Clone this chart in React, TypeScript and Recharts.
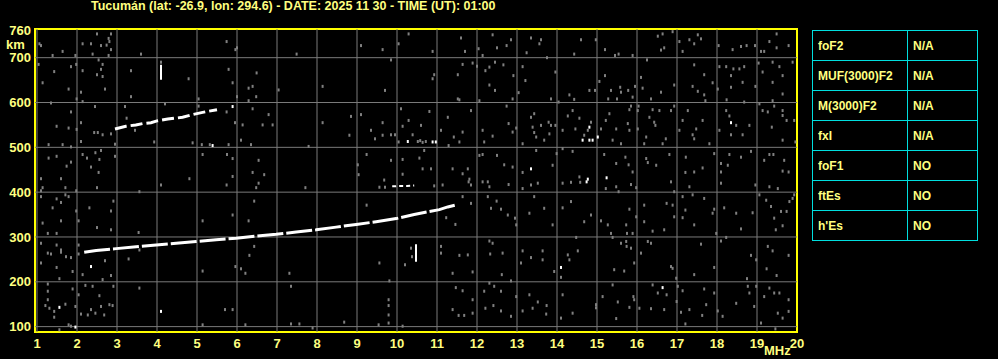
import React from 'react';
import {
  ScatterChart,
  Scatter,
  XAxis,
  YAxis,
  ReferenceLine,
  ReferenceArea,
} from 'recharts';

// ionogram: frequency (MHz) vs virtual height (km)
const titleText = 'Tucumán (lat: -26.9, lon: 294.6) - DATE: 2025 11 30 - TIME (UT): 01:00';
const freqTicks = [1, 2, 3, 4, 5, 6, 7, 8, 9, 10, 11, 12, 13, 14, 15, 16, 17, 18, 19, 20];
const heightTicks = [100, 200, 300, 400, 500, 600, 700, 760];
const freqGrid = [1, 2, 3, 4, 5, 6, 7, 8, 9, 10, 11, 12, 13, 14, 15, 16, 17, 18, 19];
const heightGrid = [100, 200, 300, 400, 500, 600, 700];

const paramNames = ['foF2', 'MUF(3000)F2', 'M(3000)F2', 'fxI', 'foF1', 'ftEs', "h'Es"];
const paramValues = ['N/A', 'N/A', 'N/A', 'N/A', 'NO', 'NO', 'NO'];

// main F trace
const fTrace: [number, number][] = [
  [2.18, 266], [2.48, 270], [2.98, 274], [3.48, 278], [3.98, 282], [4.48, 286], [4.98, 290],
  [5.48, 294], [5.98, 297], [6.48, 302], [6.98, 306], [7.48, 311], [7.98, 316], [8.48, 322],
  [8.98, 328], [9.48, 334], [9.98, 341], [10.43, 350], [10.81, 357], [11.06, 361], [11.27, 367],
  [11.49, 372],
];
// second hop
const f2hop: [number, number][] = [
  [2.95, 541], [3.22, 547], [3.47, 550], [3.64, 553], [3.85, 555], [4.0, 559], [4.27, 563],
  [4.64, 567], [4.89, 573], [5.14, 578], [5.5, 584],
];
const esTrace: [number, number][] = [
  [9.88, 413], [9.97, 413], [10.05, 414], [10.15, 414], [10.25, 414], [10.43, 415],
];
const barA: [number, number][] = [[4.1, 651], [4.1, 684]];
const barB: [number, number][] = [[10.475, 245], [10.475, 284]];

const whiteDots: [number, number][] = [
  [10.89, 512], [10.97, 512], [14.64, 516], [14.81, 545], [14.81, 516], [14.89, 516], [15.02, 523],
  [18.35, 555], [13.35, 452], [14.77, 429], [15.24, 432], [14.74, 423], [14.1, 232], [16.64, 187],
  [5.39, 504], [10.27, 513], [2.35, 234], [1.56, 143], [1.96, 99], [4.1, 134], [5.89, 591],
];

const grayDots: [number, number][] = [
  [10.89, 714], [11.6, 744], [11.7, 714], [12.39, 751], [12.04, 720], [12.14, 705], [12.5, 722], [12.74, 727], [12.85, 740],
  [13.35, 744], [13.6, 740], [13.24, 711], [13.56, 731], [13.75, 700], [14.43, 708], [14.6, 740], [14.97, 740], [15.2, 718],
  [15.45, 705], [15.54, 708], [15.89, 705], [16.52, 748], [16.64, 753], [16.89, 758], [16.68, 722], [16.6, 717], [17.14, 714],
  [17.06, 736], [17.31, 740], [17.52, 751], [17.6, 742], [17.43, 731], [18.04, 727], [18.39, 718], [18.6, 725], [18.74, 727],
  [18.95, 727], [19.1, 714], [19.18, 714], [19.31, 736], [19.49, 753], [19.49, 722], [19.79, 727],
  [10.93, 662], [10.89, 653], [11.52, 662], [11.52, 608], [11.56, 606], [11.64, 685], [11.89, 688], [12.0, 681], [12.21, 671],
  [12.31, 679], [12.45, 690], [12.66, 684], [12.91, 660], [12.31, 639], [12.45, 627], [12.06, 604], [12.89, 608], [13.04, 622],
  [13.14, 680], [13.21, 649], [13.85, 608], [13.96, 668], [14.04, 601], [14.31, 617], [14.43, 607], [14.81, 627], [14.95, 627],
  [15.06, 647], [15.2, 660], [15.35, 627], [15.28, 608], [15.5, 608], [15.58, 634], [15.6, 623], [15.78, 627], [15.89, 612],
  [15.95, 636], [16.1, 656], [16.14, 632], [16.25, 695], [16.35, 608], [16.6, 623], [16.93, 639], [17.43, 684], [17.39, 636],
  [17.52, 625], [17.68, 662], [17.68, 617], [17.89, 644], [18.02, 630], [18.06, 680], [18.23, 680], [18.35, 660], [18.35, 634],
  [18.41, 675], [18.56, 675], [18.68, 680], [18.64, 645], [18.96, 636], [19.04, 688], [19.14, 668], [19.39, 690], [19.56, 680],
  [19.64, 660], [19.39, 645], [19.64, 619], [19.89, 690], [19.06, 597], [19.39, 604], [18.68, 601], [18.24, 606], [17.71, 604],
  [10.81, 580], [10.6, 549], [10.52, 513], [10.58, 515], [10.64, 511], [10.72, 513], [11.1, 538], [11.27, 567], [11.29, 504],
  [11.42, 523], [11.56, 512], [11.64, 534], [11.85, 582], [12.14, 538], [12.18, 512], [12.39, 525], [12.74, 592], [12.79, 553],
  [12.89, 534], [12.98, 543], [13.14, 508], [13.35, 567], [13.43, 575], [13.39, 545], [13.43, 533], [13.48, 523], [13.6, 549],
  [13.68, 516], [13.79, 556], [13.85, 549], [13.81, 530], [13.96, 549], [14.14, 538], [14.27, 570], [14.39, 582], [14.46, 541],
  [14.56, 565], [14.68, 527], [14.77, 538], [14.85, 556], [15.1, 541], [15.22, 560], [15.31, 575], [15.48, 541], [15.39, 516],
  [15.6, 508], [15.77, 553], [15.81, 584], [15.81, 538], [15.85, 592], [16.02, 582], [16.02, 541], [16.04, 592], [16.23, 523],
  [16.18, 508], [16.31, 567], [16.39, 584], [16.43, 556], [16.46, 549], [16.56, 582], [16.64, 508], [16.72, 519], [16.85, 582],
  [16.93, 592], [17.06, 538], [17.14, 560], [17.27, 582], [17.39, 528], [17.43, 519], [17.48, 541], [17.64, 560], [17.81, 508],
  [18.06, 538], [18.23, 582], [18.31, 570], [18.35, 528], [18.48, 549], [18.64, 528], [18.81, 549], [19.14, 582], [19.27, 579],
  [19.43, 592], [19.64, 582], [19.64, 571], [19.74, 560], [19.37, 545], [19.64, 516], [19.96, 512], [19.93, 560],
  [10.56, 476], [10.68, 493], [10.64, 452], [10.85, 452], [11.39, 452], [11.64, 441], [11.77, 452], [11.81, 429], [12.06, 482],
  [12.14, 484], [12.5, 482], [12.68, 461], [12.89, 456], [13.14, 444], [13.48, 493], [13.89, 460], [13.99, 486], [14.14, 497],
  [14.39, 491], [14.56, 434], [15.18, 484], [15.48, 464], [15.71, 478], [15.79, 461], [15.89, 445], [16.23, 475], [16.27, 466],
  [16.48, 460], [16.81, 484], [17.22, 478], [17.21, 444], [17.43, 445], [17.64, 454], [17.93, 486], [18.1, 464], [18.1, 445],
  [18.27, 460], [18.31, 484], [18.6, 478], [18.85, 491], [19.18, 471], [19.31, 484], [19.41, 484], [19.68, 471], [19.64, 447],
  [19.79, 445],
  [10.93, 414], [11.14, 416], [11.79, 423], [12.14, 423], [12.27, 423], [11.85, 416], [12.31, 412], [12.79, 417], [13.14, 408],
  [13.35, 416], [13.52, 420], [14.14, 420], [14.35, 422], [14.58, 422], [15.22, 408], [15.48, 412], [15.85, 417], [15.98, 410],
  [16.85, 423], [16.93, 401], [17.31, 412], [18.1, 420], [18.96, 416], [19.31, 412], [19.52, 408],
  [11.23, 343], [11.46, 328], [11.64, 390], [11.85, 375], [12.27, 390], [12.35, 364], [12.49, 380], [12.6, 362], [12.77, 349],
  [12.95, 342], [12.98, 327], [13.31, 353], [13.43, 390], [13.68, 364], [13.89, 327], [14.14, 365], [14.35, 379], [14.48, 299],
  [14.68, 334], [14.85, 349], [15.1, 336], [15.27, 327], [15.35, 308], [15.39, 299], [15.54, 401], [15.73, 327], [15.75, 308],
  [15.81, 362], [15.89, 308], [15.98, 345], [16.18, 371], [16.18, 334], [16.39, 313], [16.68, 316], [16.74, 375], [16.89, 371],
  [16.93, 345], [17.14, 390], [17.21, 360], [17.14, 343], [17.39, 394], [17.43, 327], [17.68, 386], [17.89, 353], [17.93, 362],
  [17.98, 308], [18.18, 365], [18.48, 353], [18.6, 318], [18.89, 354], [19.06, 394], [19.23, 382], [19.35, 368], [19.43, 342],
  [19.47, 316], [19.6, 357], [19.64, 325], [19.74, 357], [19.81, 379], [19.89, 386], [19.93, 394],
  [11.1, 279], [11.1, 264], [11.56, 259], [11.77, 260], [11.39, 219], [11.89, 222], [12.31, 291], [12.39, 286], [12.33, 262],
  [12.64, 264], [12.62, 216], [12.85, 202], [13.14, 269], [13.35, 254], [13.1, 242], [13.64, 269], [13.64, 249], [13.93, 223],
  [14.27, 260], [14.31, 249], [14.52, 269], [14.1, 210], [15.43, 227], [15.6, 286], [15.73, 290], [15.74, 279], [15.85, 275],
  [15.68, 224], [15.93, 242], [16.1, 264], [16.27, 290], [16.35, 286], [16.85, 234], [16.89, 230], [16.98, 208], [17.43, 216],
  [17.6, 284], [17.93, 232], [18.1, 291], [18.23, 299], [18.75, 207], [18.85, 259], [18.98, 249], [19.24, 229], [19.27, 279],
  [19.39, 269], [19.49, 214], [19.79, 259],
  [11.47, 187], [11.64, 180], [11.89, 160], [11.39, 138], [11.54, 125], [11.68, 125], [11.89, 130], [12.18, 179], [12.21, 141],
  [12.31, 197], [12.43, 190], [12.6, 179], [12.41, 147], [12.6, 135], [12.85, 123], [12.98, 167], [13.14, 135], [13.31, 171],
  [13.39, 141], [13.52, 155], [13.73, 128], [13.74, 147], [14.14, 171], [14.1, 119], [14.39, 130], [14.975, 149], [14.975, 142],
  [15.14, 167], [15.39, 193], [15.52, 155], [15.81, 143], [15.48, 118], [15.91, 167], [15.93, 160], [16.06, 141], [16.39, 193],
  [16.35, 140], [16.52, 175], [16.74, 171], [16.68, 138], [16.99, 156], [17.02, 190], [17.1, 132], [17.14, 180], [17.21, 106],
  [17.31, 138], [17.68, 184], [17.63, 125], [17.73, 149], [17.93, 175], [18.14, 123], [18.02, 135], [18.48, 152], [18.77, 190],
  [18.81, 175], [18.93, 145], [18.98, 190], [19.1, 108], [19.18, 167], [19.31, 186], [19.43, 175], [19.56, 175], [19.52, 130],
  [19.64, 119], [19.79, 160], [19.79, 134], [19.46, 95],
  [1.06, 731], [1.1, 727], [1.39, 705], [1.64, 714], [1.96, 705], [2.14, 731], [2.35, 731], [2.39, 708], [2.5, 753], [2.6, 727],
  [2.74, 728], [2.79, 743], [2.81, 736], [2.85, 753], [2.85, 718], [2.79, 705], [2.54, 695], [3.6, 708], [5.74, 736], [5.96, 718],
  [6.0, 722], [7.49, 708], [9.1, 727], [9.64, 718], [10.04, 731], [10.29, 753],
  [1.04, 685], [1.14, 644], [1.43, 669], [1.35, 599], [1.79, 630], [1.85, 680], [1.98, 685], [2.14, 671], [2.1, 623], [2.14, 602],
  [1.99, 608], [2.5, 662], [2.6, 674], [2.64, 658], [2.64, 685], [2.7, 630], [3.35, 671], [3.35, 613], [4.2, 597], [4.79, 653],
  [5.04, 608], [5.79, 674], [5.89, 644], [6.0, 613], [6.29, 632], [6.39, 636], [6.49, 666], [6.48, 613], [6.29, 604], [7.04, 628],
  [8.14, 636], [9.7, 627], [9.85, 695], [4.1, 690],
  [1.85, 579], [1.49, 547], [1.79, 543], [1.99, 540], [2.1, 555], [2.45, 591], [2.64, 528], [2.85, 530], [2.1, 513], [1.29, 506],
  [1.64, 506], [1.85, 501], [2.95, 507], [3.2, 591], [3.24, 565], [3.45, 538], [3.93, 512], [5.04, 592], [4.89, 510], [5.12, 506],
  [5.32, 506], [5.79, 506], [5.74, 579], [5.95, 555], [6.14, 550], [6.1, 516], [6.35, 506], [6.39, 586], [6.64, 550], [6.79, 573],
  [6.89, 550], [7.79, 502], [8.14, 555], [8.85, 569], [9.1, 573], [8.81, 527], [9.35, 538], [9.45, 519], [9.64, 555], [9.64, 527],
  [9.85, 528], [9.95, 528], [10.1, 586], [10.14, 547], [10.29, 560], [10.04, 512], [10.39, 528], [2.43, 533], [2.52, 533],
  [1.29, 476], [1.49, 480], [1.74, 458], [1.85, 467], [2.14, 484], [2.25, 476], [2.35, 456], [2.46, 488], [2.56, 473], [2.54, 444],
  [2.6, 493], [2.95, 480], [1.1, 430], [1.6, 430], [5.14, 484], [5.75, 484], [5.89, 475], [5.89, 435], [6.39, 444], [6.54, 471],
  [6.68, 439], [9.02, 461], [9.04, 439], [9.24, 484], [9.85, 471], [10.14, 473], [10.14, 440], [4.81, 430],
  [1.14, 410], [1.1, 403], [1.71, 410], [1.98, 403], [2.5, 410], [4.1, 416], [5.74, 416], [6.54, 420], [6.48, 410], [7.71, 410],
  [9.68, 427], [9.56, 411], [9.7, 411],
  [1.1, 390], [1.14, 331], [1.27, 308], [1.39, 365], [1.49, 385], [1.49, 308], [1.6, 377], [1.6, 336], [1.71, 394], [1.79, 390],
  [1.98, 358], [2.04, 336], [2.31, 365], [2.5, 321], [2.85, 358], [2.91, 380], [2.85, 316], [3.56, 401], [3.54, 310], [5.14, 336],
  [5.89, 349], [6.29, 336], [6.43, 380], [9.24, 371],
  [1.1, 286], [1.27, 264], [1.35, 262], [1.49, 282], [1.6, 271], [1.6, 266], [1.725, 256], [1.85, 254], [2.04, 282], [2.04, 262],
  [1.49, 232], [1.89, 223], [1.56, 207], [1.1, 242], [2.14, 216], [2.7, 247], [2.64, 205], [2.85, 214], [3.29, 251], [3.56, 271],
  [5.14, 224], [5.96, 234], [6.1, 229], [6.21, 219], [6.31, 259], [6.43, 279], [7.31, 219], [9.81, 202], [9.56, 242], [10.2, 238],
  [10.35, 275], [10.375, 256],
  [1.27, 195], [1.27, 179], [1.27, 160], [1.21, 147], [1.31, 141], [1.43, 134], [1.43, 121], [1.71, 150], [1.89, 184], [1.96, 145],
  [2.04, 171], [2.1, 128], [2.21, 192], [2.27, 126], [2.35, 138], [2.39, 190], [2.46, 130], [2.56, 169], [2.6, 145], [2.68, 126],
  [2.81, 149], [2.89, 147], [2.91, 190], [3.56, 186], [1.79, 104], [1.85, 101], [1.56, 93], [5.14, 104], [5.7, 138], [5.89, 138],
  [6.21, 104], [7.35, 190], [7.35, 106], [7.56, 106], [7.89, 97], [8.68, 110], [9.54, 104], [9.79, 160], [9.79, 147], [9.79, 126],
  [9.79, 108], [10.14, 101],
];

const toPts = (arr: [number, number][]) => arr.map(([f, h]) => ({ f, h }));

const YELLOW = '#ffff00';
const TEXT = '#ffff80';
const GRID = '#7a7a7a';
const CYAN = '#00dede';
const FONT = '"Liberation Sans", Arial, sans-serif';

const dot = (fill: string) => (props: any) => (
  <rect x={props.cx - 1} y={props.cy - 1.5} width={2} height={3} fill={fill} />
);
const noDot = () => <g />;

export default function App() {
  const tick = { fill: TEXT, fontSize: 13, fontWeight: 700, fontFamily: FONT };
  return (
    <div style={{ position: 'absolute', left: 0, top: 0, width: 998, height: 359, background: '#000', overflow: 'hidden' }}>
      <div style={{ position: 'absolute', left: 91, top: -1, color: TEXT, fontFamily: FONT, fontWeight: 700, fontSize: 12.5, lineHeight: '14px', whiteSpace: 'nowrap' }}>
        {titleText}
      </div>
      <div style={{ position: 'absolute', left: 6, top: 37, color: TEXT, fontFamily: FONT, fontWeight: 700, fontSize: 13, lineHeight: '15px' }}>
        km
      </div>

      <div style={{ position: 'absolute', left: 0, top: 0 }}>
        <ScatterChart width={812} height={359} margin={{ top: 29, right: 15, bottom: 0, left: 0 }}>
          <XAxis
            type="number"
            dataKey="f"
            domain={[0.95, 20]}
            ticks={freqTicks}
            interval={0}
            allowDataOverflow
            axisLine={false}
            tickLine={false}
            tickSize={5}
            tickMargin={2}
            height={27}
            tick={tick}
          />
          <YAxis
            type="number"
            dataKey="h"
            domain={[88, 764]}
            ticks={heightTicks}
            interval={0}
            allowDataOverflow
            axisLine={false}
            tickLine={false}
            tickSize={2}
            tickMargin={2}
            width={35}
            tick={tick}
          />
          {freqGrid.map((v) => (
            <ReferenceLine key={'v' + v} x={v} stroke={GRID} strokeWidth={1} />
          ))}
          {heightGrid.map((v) => (
            <ReferenceLine key={'h' + v} y={v} stroke={GRID} strokeWidth={1} />
          ))}
          <Scatter data={toPts(grayDots)} shape={dot('#808080')} isAnimationActive={false} />
          <Scatter data={toPts(whiteDots)} shape={dot('#ffffff')} isAnimationActive={false} />
          <Scatter
            data={toPts(fTrace)}
            line={{ stroke: '#ffffff', strokeWidth: 3, strokeDasharray: '26 3' }}
            shape={noDot}
            isAnimationActive={false}
          />
          <Scatter
            data={toPts(f2hop)}
            line={{ stroke: '#ffffff', strokeWidth: 3, strokeDasharray: '12 4' }}
            shape={noDot}
            isAnimationActive={false}
          />
          <Scatter
            data={toPts(esTrace)}
            line={{ stroke: '#ffffff', strokeWidth: 2, strokeDasharray: '4 3' }}
            shape={noDot}
            isAnimationActive={false}
          />
          <Scatter data={toPts(barA)} line={{ stroke: '#ffffff', strokeWidth: 2 }} shape={noDot} isAnimationActive={false} />
          <Scatter data={toPts(barB)} line={{ stroke: '#ffffff', strokeWidth: 2 }} shape={noDot} isAnimationActive={false} />
          <ReferenceArea x1={0.95} x2={20} y1={88} y2={764} fill="none" stroke={YELLOW} strokeWidth={2} />
        </ScatterChart>
      </div>

      <div style={{ position: 'absolute', left: 764, top: 343, color: TEXT, fontFamily: FONT, fontWeight: 700, fontSize: 13, lineHeight: '15px' }}>
        MHz
      </div>

      <table
        style={{
          position: 'absolute',
          left: 812,
          top: 30,
          width: 166,
          borderCollapse: 'collapse',
          fontFamily: FONT,
          fontWeight: 700,
          fontSize: 12,
          color: TEXT,
        }}
      >
        <tbody>
          {paramNames.map((name, i) => (
            <tr key={name} style={{ height: 30 }}>
              <td style={{ border: `1px solid ${CYAN}`, width: 89, padding: '0 0 0 5px' }}>{name}</td>
              <td style={{ border: `1px solid ${CYAN}`, padding: '0 0 0 5px' }}>{paramValues[i]}</td>
            </tr>
          ))}
        </tbody>
      </table>
    </div>
  );
}
